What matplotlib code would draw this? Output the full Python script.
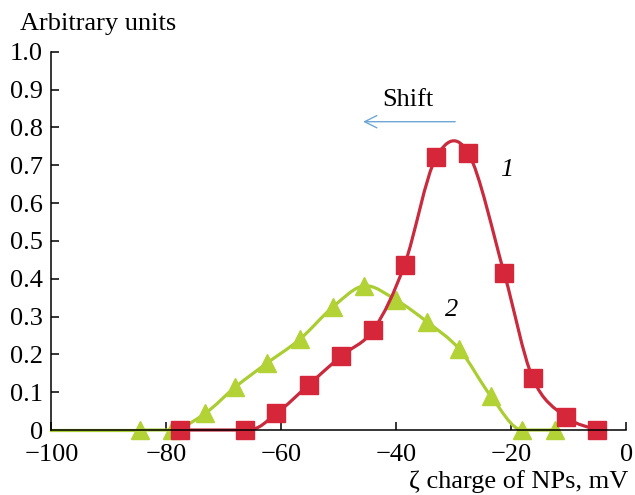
import numpy as np
import matplotlib
matplotlib.use("Agg")
import matplotlib.pyplot as plt
from matplotlib.path import Path
from matplotlib.patches import PathPatch

plt.rcParams['font.family'] = ['Liberation Serif', 'DejaVu Serif']

# Series 1 (red squares)
s1_x = [-77.7, -66.3, -60.9, -55.3, -49.6, -44.0, -38.6, -33.1, -27.5, -21.3, -16.3, -10.6, -5.1]
s1_y = [0.0, 0.0, 0.044, 0.119, 0.196, 0.265, 0.437, 0.721, 0.732, 0.416, 0.137, 0.035, 0.0]

# Series 2 (green triangles)
s2_x = [-84.6, -79.1, -73.3, -68.0, -62.6, -56.8, -51.0, -45.6, -40.1, -34.7, -29.1, -23.6, -18.1, -12.4]
s2_y = [0.0, 0.0, 0.044, 0.114, 0.176, 0.240, 0.326, 0.381, 0.344, 0.286, 0.214, 0.090, 0.0, 0.0]

x_ticks = [-100, -80, -60, -40, -20, 0]
x_ticklabels = ['\u2212100', '\u221280', '\u221260', '\u221240', '\u221220', '0']
y_ticks = [0, 0.1, 0.2, 0.3, 0.4, 0.5, 0.6, 0.7, 0.8, 0.9, 1.0]
y_ticklabels = ['0', '0.1', '0.2', '0.3', '0.4', '0.5', '0.6', '0.7', '0.8', '0.9', '1.0']

red = '#d62639'
red_line = '#c92a3e'
green = '#b2d235'
green_line = '#abcd34'


def smooth_path(xs, ys):
    pts = np.column_stack([xs, ys]).astype(float)
    n = len(pts)
    tang = []
    for i in range(n):
        p0 = pts[i - 1] if i > 0 else pts[i]
        p2 = pts[i + 1] if i < n - 1 else pts[i]
        t = (p2 - p0) / 2.0
        flat_left = i > 0 and pts[i - 1][1] == pts[i][1]
        flat_right = i < n - 1 and pts[i + 1][1] == pts[i][1]
        if flat_left or flat_right:
            t[1] = 0.0
        tang.append(t)
    verts = [pts[0]]
    codes = [Path.MOVETO]
    for i in range(n - 1):
        c1 = pts[i] + tang[i] / 3.0
        c2 = pts[i + 1] - tang[i + 1] / 3.0
        verts += [c1, c2, pts[i + 1]]
        codes += [Path.CURVE4] * 3
    return Path(verts, codes)


fig = plt.figure(figsize=(6.35, 4.95), dpi=100)
ax = fig.add_axes([0.0811, 0.1313, 0.9055, 0.7642])
ax.set_xlim(-100, 0)
ax.set_ylim(0, 1.0)

# green curve
ax.plot([ax.get_xlim()[0], s2_x[0]], [0, 0], color=green_line, lw=2.3, clip_on=False, zorder=2)
ax.add_patch(PathPatch(smooth_path(s2_x, s2_y), fill=False, edgecolor=green_line, lw=2.3,
                       clip_on=False, zorder=2))
ax.plot(s2_x, s2_y, ls='none', marker='^', ms=13, color=green, mec=green, clip_on=False, zorder=3)

# red curve
ax.add_patch(PathPatch(smooth_path(s1_x, s1_y), fill=False, edgecolor=red_line, lw=2.3,
                       clip_on=False, zorder=4))
ax.plot(s1_x, s1_y, ls='none', marker='s', ms=12.5, color=red, mec=red, clip_on=False, zorder=5)

for side in ['top', 'right']:
    ax.spines[side].set_visible(False)
for side in ['left', 'bottom']:
    ax.spines[side].set_linewidth(1.1)
    ax.spines[side].set_zorder(6)

ax.set_xticks(x_ticks)
ax.set_xticklabels(x_ticklabels)
ax.set_yticks(y_ticks)
ax.set_yticklabels(y_ticklabels)
ax.tick_params(direction='in', length=6, width=1.1, labelsize=19)
ax.tick_params(axis='x', pad=10)
ax.tick_params(axis='y', pad=6)

# annotations
ax.annotate('', xy=(-46.3, 0.815), xytext=(-29.3, 0.815),
            arrowprops=dict(arrowstyle='->', color='#6fa6d6', lw=1.0, mutation_scale=22))
ax.text(-42.4, 0.857, 'Shift', fontsize=19, ha='left', va='baseline')
ax.text(-20.9, 0.688, '1', fontsize=19, style='italic', ha='center', va='center')
ax.text(-30.4, 0.318, '2', fontsize=19, style='italic', ha='center', va='center')

fig.text(20 / 635, 1 - 30 / 495, 'Arbitrary units', fontsize=19, ha='left', va='baseline')
fig.text(628 / 635, 1 - 488 / 495, '\u03b6 charge of NPs, mV', fontsize=19, ha='right', va='baseline')

fig.savefig('out.png', dpi=100)
